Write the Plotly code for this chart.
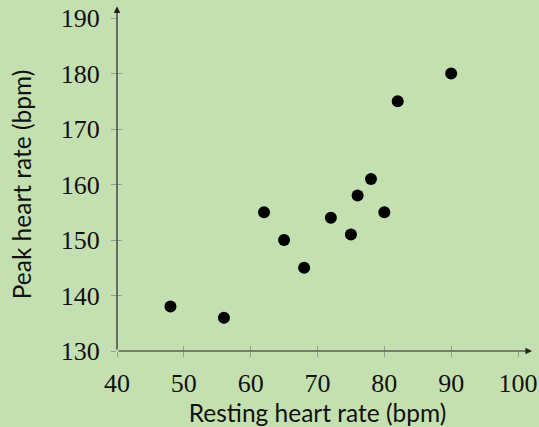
import plotly.graph_objects as go

# resting vs peak heart rate
resting = [48, 56, 62, 65, 68, 72, 75, 76, 78, 80, 82, 90]
peak = [138, 136, 155, 150, 145, 154, 151, 158, 161, 155, 175, 180]

x_ticks = [40, 50, 60, 70, 80, 90, 100]
y_ticks = [130, 140, 150, 160, 170, 180, 190]

BG = "#c4e0b1"
TICK_FONT = dict(family="Liberation Serif", size=26, color="#111")
TITLE_FONT = dict(family="Lato", size=24.5, color="#111")

fig = go.Figure()
fig.add_trace(go.Scatter(
    x=resting, y=peak, mode="markers",
    marker=dict(size=12, color="black"),
    showlegend=False, hoverinfo="skip",
))
# empty trace so the overlay axes (inside half of the tick marks) exist
fig.add_trace(go.Scatter(x=[], y=[], xaxis="x2", yaxis="y2", showlegend=False))

axis_common = dict(showgrid=False, zeroline=False, showline=False, automargin=False,
                   ticklen=5, tickwidth=1, tickcolor="#999")
fig.update_layout(
    width=539, height=427,
    paper_bgcolor=BG, plot_bgcolor=BG,
    margin=dict(l=117, r=21, t=18, b=76),
    xaxis=dict(range=[40, 100], tickvals=x_ticks, ticks="outside",
               tickfont=TICK_FONT, ticklabelstandoff=4,
               title=dict(text="Resting heart rate (bpm)", standoff=2, font=TITLE_FONT),
               **axis_common),
    yaxis=dict(range=[130, 190], tickvals=y_ticks, ticks="outside",
               tickfont=TICK_FONT, ticklabelstandoff=6,
               title=dict(text="Peak heart rate (bpm)", standoff=22, font=TITLE_FONT),
               **axis_common),
    xaxis2=dict(range=[40, 100], tickvals=x_ticks, ticks="inside",
                showticklabels=False, overlaying="x", anchor="y2", **axis_common),
    yaxis2=dict(range=[130, 190], tickvals=y_ticks, ticks="inside",
                showticklabels=False, overlaying="y", anchor="x2", **axis_common),
)

# axis lines with arrow heads, running a bit past the plot area
arrow = dict(xref="x domain", yref="y domain", axref="x domain", ayref="y domain",
             showarrow=True, arrowhead=2, arrowsize=1.1, arrowwidth=1.2,
             arrowcolor="#222", text="")
fig.add_annotation(x=1.035, y=0, ax=0, ay=0, **arrow)
fig.add_annotation(x=0, y=1.035, ax=0, ay=0, **arrow)

# drop the browser's default 8px body margin so the figure sits at the corner
fig.write_html("out.html", config={"displayModeBar": False},
               post_script="document.body.style.margin='0';")
